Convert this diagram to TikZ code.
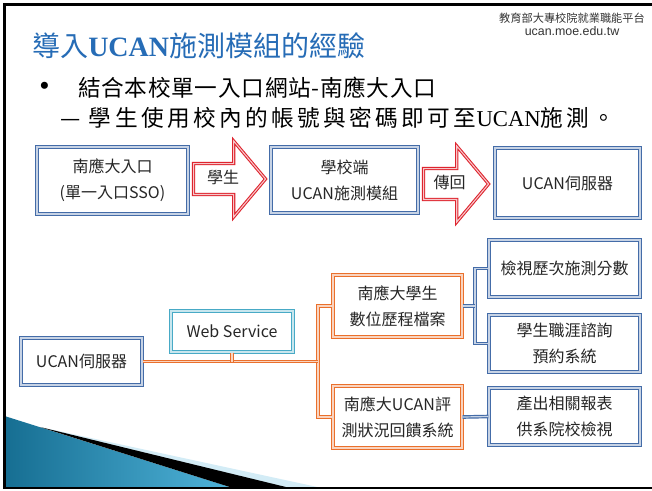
\documentclass[tikz,border=0pt]{standalone}
\usepackage{fontspec}
\setmainfont{Noto Sans CJK TC}
\newfontfamily\latinserif{Liberation Serif}
\newfontfamily\arialfont{Liberation Sans}
\usetikzlibrary{shapes.arrows}

\definecolor{boxblue}{RGB}{68,108,168}
\definecolor{webteal}{RGB}{72,170,198}
\definecolor{ucanorange}{RGB}{234,112,44}
\definecolor{arrowred}{RGB}{222,36,46}
\definecolor{titleblue}{RGB}{38,108,182}
\definecolor{wedgedark}{RGB}{22,110,146}
\definecolor{wedgelight}{RGB}{80,180,218}

\tikzset{
  framebox/.style={rectangle, line width=0.9pt, double distance=0.9pt, fill=white,
    align=center, text=black!85, font=\fontsize{12}{19.5}\selectfont},
  bluebox/.style={framebox, draw=boxblue, double=boxblue!30},
  orangebox/.style={framebox, draw=ucanorange, double=ucanorange!30},
  webbox/.style={framebox, draw=webteal, double=webteal!30},
  redarrow/.style={single arrow, draw=arrowred, double=arrowred!25, line width=0.8pt,
    double distance=0.8pt, fill=white, single arrow head extend=16.9pt,
    single arrow tip angle=100, text height=9.5pt, text depth=2.5pt,
    inner ysep=5.2pt, inner xsep=1pt, text=black!85, font=\fontsize{12}{14}\selectfont},
  orangelink/.style={draw=ucanorange, double=ucanorange!30, line width=0.9pt, double distance=0.9pt},
  bluelink/.style={draw=boxblue, double=boxblue!30, line width=0.9pt, double distance=0.9pt},
  plaintext/.style={inner sep=0pt, anchor=west, font=\fontsize{17}{20}\selectfont}
}

\begin{document}
\begin{tikzpicture}[x=0.75pt,y=-0.75pt]
	\useasboundingbox (0,0) rectangle (652,490);
	\fill[white] (0,0) rectangle (652,490);

	% corner wedge
	\shade[left color=wedgedark, right color=wedgelight] (4.5,416) -- (233,488) -- (4.5,488) -- cycle;
	\fill[wedgelight!25] (40,427) -- (322,488) -- (287,488) -- cycle;
	\fill[black] (40,427) -- (290,488) -- (233,488) -- cycle;
	\draw[line width=2.2pt] (652,4.5) -- (4.5,4.5) -- (4.5,488) -- (652,488);

	% heading
	\node[plaintext, text=titleblue, font=\fontsize{21}{25}\selectfont] (title) at (32,46)
		{導入{\latinserif\bfseries UCAN}施測模組的經驗};
	\node[inner sep=0pt, text=black!80, font=\fontsize{8.4}{10}\selectfont] (platform) at (572,18)
		{教育部大專校院就業職能平台};
	\node[inner sep=0pt, text=black!80, font={\fontsize{9.3}{10}\selectfont\arialfont}] (site) at (572,31)
		{ucan.moe.edu.tw};
	\node[plaintext, font={\fontsize{22}{22}\selectfont\latinserif}] (dot) at (39,89) {•};
	\node[plaintext] (line1) at (78,88)
		{\addfontfeature{LetterSpace=3}結合本校單一入口網站-南應大入口};
	\node[plaintext] (line2) at (60,118)
		{\addfontfeature{LetterSpace=15}— 學生使用校內的帳號與密碼即可至{\latinserif UCAN}施測。};

	% login flow
	\node[bluebox, minimum width=113.3pt, minimum height=50.3pt] (portal) at (112.5,180.5)
		{南應大入口\\(單一入口SSO)};
	\node[bluebox, minimum width=110.3pt, minimum height=49.5pt] (module) at (344.5,180)
		{學校端\\UCAN施測模組};
	\node[bluebox, minimum width=108.8pt, minimum height=52.5pt] (server) at (567.5,183)
		{UCAN伺服器};
	\node[redarrow, minimum height=54pt, anchor=tail] (student) at (193,179) {學生};
	\node[redarrow, minimum height=48.8pt, anchor=tail] (reply) at (423,184) {傳回};

	% web service tree
	\node[bluebox, minimum width=90.8pt, minimum height=35.3pt] (ucan) at (81.5,361.5) {UCAN伺服器};
	\node[webbox, minimum width=91.5pt, minimum height=30.8pt] (web) at (232,331.5) {Web Service};
	\node[orangebox, minimum width=96.8pt, minimum height=46.5pt] (portfolio) at (397.5,306)
		{南應大學生\\數位歷程檔案};
	\node[orangebox, minimum width=96.8pt, minimum height=46.5pt] (feedback) at (397.5,417)
		{南應大UCAN評\\測狀況回饋系統};
	\node[bluebox, minimum width=113.3pt, minimum height=42.8pt] (scores) at (564.5,268.5)
		{檢視歷次施測分數};
	\node[bluebox, minimum width=113.3pt, minimum height=42.8pt] (career) at (564.5,343.5)
		{學生職涯諮詢\\預約系統};
	\node[bluebox, minimum width=113.3pt, minimum height=42.8pt] (report) at (564.5,416.5)
		{產出相關報表\\供系院校檢視};

	\coordinate (split) at (318,361.5);
	\coordinate (bsplit) at (475,306);
	\draw[orangelink] (portfolio.west) -| (split) |- (feedback.west);
	\draw[orangelink] (ucan.east) -- (split);
	\draw[orangelink] (web.south) -- (web.south |- split);
	\draw[bluelink] (scores.west) -| (bsplit) |- (career.west);
	\draw[bluelink] (portfolio.east) -- (bsplit);
	\draw[bluelink] (feedback.east) -- (report.west);
\end{tikzpicture}
\end{document}
